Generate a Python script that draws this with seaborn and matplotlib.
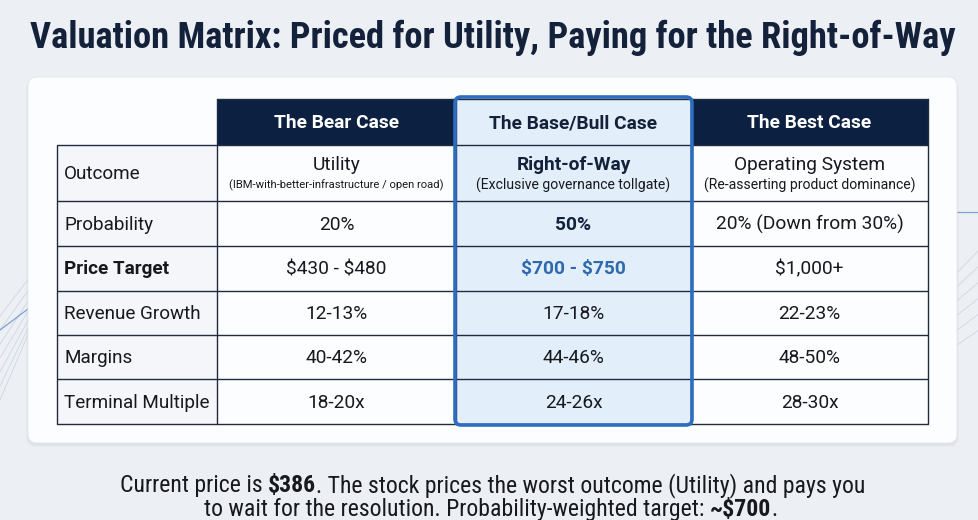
import numpy as np
import pandas as pd
import matplotlib
matplotlib.use("Agg")
import matplotlib.pyplot as plt
from matplotlib import font_manager
from matplotlib.patches import FancyBboxPatch, Rectangle
import seaborn as sns

# ---------------- data ----------------
title = "Valuation Matrix: Priced for Utility, Paying for the Right-of-Way"
case_labels = ["The Bear Case", "The Base/Bull Case", "The Best Case"]
row_labels = ["Outcome", "Probability", "Price Target", "Revenue Growth", "Margins", "Terminal Multiple"]
outcome_names = ["Utility", "Right-of-Way", "Operating System"]
outcome_notes = ["(IBM-with-better-infrastructure / open road)",
                 "(Exclusive governance tollgate)",
                 "(Re-asserting product dominance)"]
probability = ["20%", "50%", "20% (Down from 30%)"]
price_target = ["$430 - $480", "$700 - $750", "$1,000+"]
revenue_growth = ["12-13%", "17-18%", "22-23%"]
margins = ["40-42%", "44-46%", "48-50%"]
terminal_multiple = ["18-20x", "24-26x", "28-30x"]
highlight_case = "The Base/Bull Case"
current_price = "$386"
weighted_target = "~$700"

table = pd.DataFrame(
    [probability, price_target, revenue_growth, margins, terminal_multiple],
    index=row_labels[1:], columns=case_labels)

# ---------------- style ----------------
sns.set_theme(style="white")
plt.rcParams["font.family"] = ["Roboto", "DejaVu Sans"]

available = {f.name for f in font_manager.fontManager.ttflist}
cond_stretch = "normal"
if "Roboto Condensed" in available:
    NARROW = ["Roboto Condensed", "Roboto"]
elif "Liberation Sans Narrow" in available:
    NARROW = ["Liberation Sans Narrow", "Roboto"]
else:
    NARROW = ["Roboto", "DejaVu Sans"]
TITLE_FAM = ["Roboto Condensed", "Inter"] if "Roboto Condensed" in available else ["Inter", "Roboto"]

BG = "#eceff3"
CARD = "#fcfdfe"
NAVY = "#0c2142"
GRID = "#1f2c40"
HL_FILL = "#e2eef9"
HL_EDGE = "#2e6cc0"
TEXT = "#17191e"
BLUE_TXT = "#2f69ae"
LABEL_FILL = "#f4f6f9"
TITLE_C = "#14213b"

W, H = 979, 520
col_edges = [57, 217, 456, 691, 928]
row_edges = [99, 145, 201, 246, 291, 335, 379, 424]

fig = plt.figure(figsize=(W / 100, H / 100), dpi=100, facecolor=BG)
ax = fig.add_axes([0, 0, 1, 1])
ax.set_xlim(0, W)
ax.set_ylim(H, 0)
ax.axis("off")
ax.set_facecolor(BG)
renderer = fig.canvas.get_renderer()

# background decorations (faint circuit lines)
for i in range(7):
    ax.plot([0, 30 + 4 * i, 30 + 4 * i], [400 - 14 * i, 330 - 14 * i, 250 - 10 * i],
            color="#b9c6d8", lw=0.6, alpha=0.6, zorder=0)
ax.plot([0, 40], [330, 300], color="#4f7fc4", lw=0.9, alpha=0.7, zorder=0)
for i in range(6):
    ax.plot([979, 950 - 3 * i, 950 - 3 * i], [250 + 16 * i, 280 + 16 * i, 360 + 14 * i],
            color="#b9c6d8", lw=0.6, alpha=0.6, zorder=0)
ax.plot([955, 979], [212, 212], color="#4f7fc4", lw=0.9, alpha=0.7, zorder=0)

# card with soft shadow
for k, a in enumerate([0.05, 0.04, 0.03]):
    ax.add_patch(FancyBboxPatch((28 - k, 79 + k), 929 + 2 * k, 366, boxstyle="round,pad=0,rounding_size=9",
                                fc="#6b7a90", ec="none", alpha=a, zorder=1))
ax.add_patch(FancyBboxPatch((28, 77), 929, 366, boxstyle="round,pad=0,rounding_size=9",
                            fc=CARD, ec="#e3e7ee", lw=0.6, zorder=2))

hl = case_labels.index(highlight_case) + 1
x0, x1 = col_edges[0], col_edges[-1]

# cell backgrounds
for r in range(1, len(row_edges) - 1):
    ax.add_patch(Rectangle((col_edges[0], row_edges[r]), col_edges[1] - col_edges[0],
                           row_edges[r + 1] - row_edges[r], fc=LABEL_FILL, ec="none", zorder=3))
for c in range(1, 4):
    if c == hl:
        continue
    ax.add_patch(Rectangle((col_edges[c], row_edges[0]), col_edges[c + 1] - col_edges[c],
                           row_edges[1] - row_edges[0], fc=NAVY, ec="none", zorder=3))
# highlight fill
ax.add_patch(FancyBboxPatch((col_edges[hl] - 1, row_edges[0] - 2), col_edges[hl + 1] - col_edges[hl] + 2,
                            row_edges[-1] - row_edges[0] + 3, boxstyle="round,pad=0,rounding_size=6",
                            fc=HL_FILL, ec="none", zorder=3))

# grid lines
lw = 1.0
for r in range(1, len(row_edges)):
    ax.plot([x0, x1], [row_edges[r]] * 2, color=GRID, lw=lw, zorder=4, solid_capstyle="butt")
ax.plot([col_edges[1], x1], [row_edges[0]] * 2, color=GRID, lw=lw, zorder=4)
for c, xe in enumerate(col_edges):
    top = row_edges[1] if c == 0 else row_edges[0]
    ax.plot([xe, xe], [top, row_edges[-1]], color=GRID, lw=lw, zorder=4)

# highlight border
ax.add_patch(FancyBboxPatch((col_edges[hl] - 1, row_edges[0] - 2), col_edges[hl + 1] - col_edges[hl] + 2,
                            row_edges[-1] - row_edges[0] + 3, boxstyle="round,pad=0,rounding_size=6",
                            fc="none", ec=HL_EDGE, lw=2.6, zorder=6))


def fit_text(x, y, s, target_w, size0=20, **kw):
    t = ax.text(x, y, s, fontsize=size0, parse_math=False, **kw)
    w = t.get_window_extent(renderer).width
    t.set_fontsize(size0 * target_w / w)
    return t


def xc(c):
    return (col_edges[c] + col_edges[c + 1]) / 2


def yc(r):
    return (row_edges[r] + row_edges[r + 1]) / 2


# headers
for i, lab in enumerate(case_labels):
    c = i + 1
    col = TITLE_C if c == hl else "white"
    ax.text(xc(c), yc(0) + 1, lab, ha="center", va="center", fontsize=13.8, fontweight="bold",
            color=col, zorder=7, parse_math=False)

# row labels
for r, lab in enumerate(row_labels):
    ax.text(col_edges[0] + 7, yc(r + 1) + 1, lab, ha="left", va="center", fontsize=13.6,
            fontweight="bold" if lab == "Price Target" else "normal", color=TEXT, zorder=7,
            parse_math=False)

# outcome row
note_w = [217, 196, 213]
for i in range(3):
    c = i + 1
    ax.text(xc(c), row_edges[1] + 20, outcome_names[i], ha="center", va="center", fontsize=13.8,
            fontweight="bold" if c == hl else "normal", color=TITLE_C if c == hl else TEXT,
            zorder=7, parse_math=False)
    fit_text(xc(c), row_edges[1] + 40, outcome_notes[i], note_w[i], size0=9, ha="center",
             va="center", color=TEXT, zorder=7)

# value rows
for j, rl in enumerate(table.index):
    r = j + 2
    for i, case in enumerate(table.columns):
        c = i + 1
        s = table.loc[rl, case]
        weight, col = "normal", TEXT
        if c == hl and rl == "Probability":
            weight, col = "bold", TITLE_C
        if c == hl and rl == "Price Target":
            weight, col = "bold", BLUE_TXT
        ax.text(xc(c), yc(r) + 1, s, ha="center", va="center", fontsize=13.8, fontweight=weight,
                color=col, zorder=7, parse_math=False)

# title
fit_text(W / 2 + 3, 48, title, 927, size0=24, ha="center", va="baseline", fontweight="bold",
         color=TITLE_C, family=TITLE_FAM, zorder=7)

# footer with mixed weights
line1 = [("Current price is", "normal"), (" ", "normal"), (current_price, "bold"),
         (". The stock prices the worst outcome (Utility) and pays you", "normal")]
line2 = [("to wait for the resolution. Probability-weighted target:", "normal"), (" ", "normal"),
         (weighted_target, "bold"), (".", "normal")]
FOOT_FAM = NARROW


def seg_width(s, size, weight):
    if s == " ":
        a = ax.text(0, 0, "x x", fontsize=size, fontweight=weight, family=FOOT_FAM, parse_math=False)
        b = ax.text(0, 0, "xx", fontsize=size, fontweight=weight, family=FOOT_FAM, parse_math=False)
        w = a.get_window_extent(renderer).width - b.get_window_extent(renderer).width
        a.remove(); b.remove()
        return w
    t = ax.text(0, 0, s, fontsize=size, fontweight=weight, family=FOOT_FAM, parse_math=False)
    w = t.get_window_extent(renderer).width
    t.remove()
    return w


size0 = 16
w1 = sum(seg_width(s, size0, wt) for s, wt in line1)
fsize = size0 * 746 / w1


def rich_line(cx, base, segs):
    widths = [seg_width(s, fsize, wt) for s, wt in segs]
    x = cx - sum(widths) / 2
    for (s, wt), w in zip(segs, widths):
        if s != " ":
            ax.text(x, base, s, ha="left", va="baseline", fontsize=fsize, fontweight=wt,
                    family=FOOT_FAM, color=TEXT, parse_math=False, zorder=7)
        x += w


rich_line(493, 492, line1)
rich_line(491, 516, line2)

fig.savefig("out.png", dpi=100, facecolor=BG)
